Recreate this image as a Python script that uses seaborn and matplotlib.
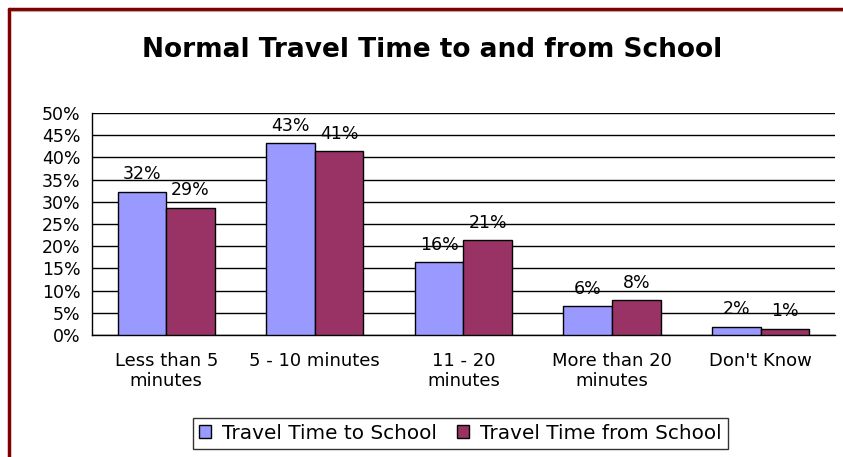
import matplotlib
matplotlib.use("Agg")
import matplotlib.pyplot as plt
from matplotlib.lines import Line2D
from matplotlib.ticker import FixedLocator, PercentFormatter
import seaborn as sns
import pandas as pd

categories = ["Less than 5\nminutes", "5 - 10 minutes", "11 - 20\nminutes",
              "More than 20\nminutes", "Don't Know"]
to_school = [32.3, 43.2, 16.4, 6.5, 1.9]
from_school = [28.7, 41.4, 21.4, 7.9, 1.4]
series_names = ["Travel Time to School", "Travel Time from School"]
colors = ["#9999FF", "#993366"]

df = pd.DataFrame({
    "category": categories * 2,
    "value": to_school + from_school,
    "series": [series_names[0]] * len(categories) + [series_names[1]] * len(categories),
})

sns.set_theme(style="white")
plt.rcParams["font.family"] = ["DejaVu Sans"]
plt.rcParams["text.color"] = "black"
plt.rcParams["xtick.color"] = "black"
plt.rcParams["ytick.color"] = "black"

fig = plt.figure(figsize=(8.43, 4.57), dpi=100)
ax = fig.add_axes([0.109, 0.267, 0.8815, 0.4857])

sns.barplot(data=df, x="category", y="value", hue="series", order=categories,
            hue_order=series_names, palette=colors, width=0.655, gap=0,
            edgecolor="black", linewidth=1.0, saturation=1, errorbar=None,
            ax=ax, zorder=3)

# value labels above each bar
for container in ax.containers:
    ax.bar_label(container, labels=[f"{v:.0f}%" for v in container.datavalues],
                 padding=6, fontsize=12.5, color="black", zorder=4)

ax.set_ylim(0, 50)
ax.set_xlim(-0.5, len(categories) - 0.5)
ax.yaxis.set_major_locator(FixedLocator(range(0, 51, 5)))
ax.yaxis.set_major_formatter(PercentFormatter(decimals=0))
ax.grid(axis="y", color="black", linewidth=1.0, zorder=0)
ax.set_axisbelow(True)

ax.set_xticks(range(len(categories)))
ax.set_xticklabels(categories, fontsize=13, linespacing=1.2)
ax.xaxis.set_minor_locator(FixedLocator([i - 0.5 for i in range(len(categories) + 1)]))
ax.tick_params(axis="x", which="major", length=0, pad=12)
ax.tick_params(axis="x", which="minor", length=5, width=1, color="black", direction="out")
ax.tick_params(axis="y", length=5, width=1, color="black", direction="out",
               labelsize=12.5, pad=3)
ax.set_xlabel("")
ax.set_ylabel("")

for side in ["top", "right"]:
    ax.spines[side].set_visible(False)
for side in ["left", "bottom"]:
    ax.spines[side].set_color("black")
    ax.spines[side].set_linewidth(1.0)

ax.legend_.remove()
handles = [plt.Rectangle((0, 0), 1, 1, facecolor=c, edgecolor="black", linewidth=1)
           for c in colors]
fig.legend(handles, series_names, loc="center", bbox_to_anchor=(0.546, 0.052),
           ncol=2, frameon=True, fancybox=False, edgecolor="black", fontsize=14.4,
           handlelength=0.6, handleheight=0.6, handletextpad=0.55, columnspacing=1.0,
           borderpad=0.3, borderaxespad=0)

fig.text(0.513, 0.89, "Normal Travel Time to and from School", ha="center",
         va="center", fontsize=19, fontweight="bold", color="black")

# frame lines along the top and left edges of the chart
fig.add_artist(Line2D([0.0107, 1.0], [0.981, 0.981], transform=fig.transFigure,
                      color="#800000", linewidth=2.5))
fig.add_artist(Line2D([0.0107, 0.0107], [0.0, 0.981], transform=fig.transFigure,
                      color="#800000", linewidth=2.5))
fig.add_artist(Line2D([0.0137, 1.0], [0.976, 0.976], transform=fig.transFigure,
                      color="#aaaaaa", linewidth=0.8))

fig.savefig("out.png", dpi=100)
